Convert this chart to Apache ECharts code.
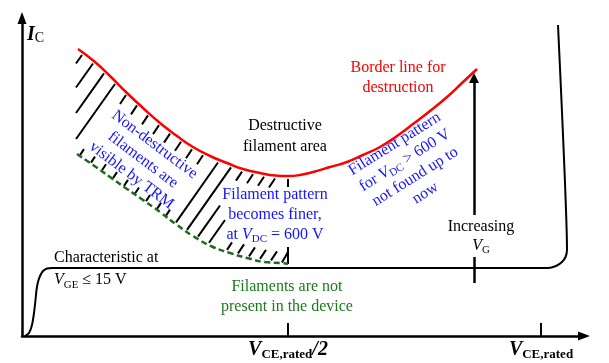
<!DOCTYPE html>
<html><head><meta charset="utf-8">
<script src="https://cdn.jsdelivr.net/npm/echarts@6/dist/echarts.min.js"></script>
<style>html,body{margin:0;padding:0;background:#fff}#c{width:609px;height:363px}</style>
</head><body><div id="c"></div>
<script>
// ---- data (axis units: x = V_CE, y = I_C, arbitrary scale) ----
const xTickValues = [266, 519];
const xTickLabels = ['{v|V}{s|CE,rated}{v|/2}', '{v|V}{s|CE,rated}'];

const borderLine = [[56,287],[73,274],[88,260],[105,243],[121,228],[138,213],[155,200],[171,189],[188,180],[205,173],[221,167],[238,163],[253,160.5],[266,160],[278,161],[291,164],[308,169],[325,174],[341,181],[358,189],[375,200],[391,212],[408,225],[425,239],[440,253],[455,267]];

const filamentOnset = [[55,182],[71,171],[88,159],[105,147],[121,136],[138,124],[155,111],[171,100],[191,89],[208,83],[225,78],[243,74],[258,73],[266,72]];

const characteristic = [[3,0],[7,3],[10,11],[12,23],[13.5,36],[14.5,46],[16,54],[18,60],[21,65],[25,67.5],[30,68],[526,68],[534,70],[540,74],[543.5,79],[545,86],[536,311]];

const hatchSegments = [
 [54,272.5,60,281],[54,248.5,71,272.5],[54,223,82,262.6],[54,197,93,252],
 [98,232,104,241],[109,221.6,115,230.6],[120,211.6,126,220.6],[131,201.9,137,210.9],
 [142,193.4,148,202.4],[153,185.3,159,194.3],[164,177.7,170,186.7],[175,171.7,181,180.7],
 [154,113.6,196,173.5],[165,106.1,209,168.6],[176,99.3,198,130.5],[187,93.2,203,116],
 [214,155.4,220,164.4],[225,152.7,231,161.7],[236,150.3,242,159.3],[247,148.5,253,157.5],
 [266,149,266,157],
 [58,180.9,62,186.9],[69,173.4,73,179.4],[80,165.7,84,171.7],[91,157.9,95,163.9],
 [102,150.1,106,156.1],[113,142.5,117,148.5],[124,134.9,128,140.9],[135,127.1,139,133.1],
 [144,120.4,148,126.4],
 [205,86.1,210,93.6],[216,82.6,222,91.6],[227,79.6,233,88.6],[238,77.1,244,86.1],
 [249,75.6,255,84.6],[260,73.5,266,84],[266,72,266,89]
];

const arrowLower = [[452,53],[452,79]];
const arrowUpper = [[452,121],[452,258]];

const annotationTexts = {
  border: 'Border line for\ndestruction',
  destructive: 'Destructive\nfilament area',
  finer: 'Filament pattern\nbecomes finer,\nat {i|V}{s|DC} = 600 V',
  nonDestructive: 'Non-destructive\nfilaments are\nvisible by TRM',
  notFound: 'Filament pattern\nfor {i|V}{s|DC} > 600 V\nnot found up to\nnow',
  characteristic: 'Characteristic at\n{i|V}{s|GE} ≤ 15 V',
  notPresent: 'Filaments are not\npresent in the device',
  increasing: 'Increasing\n{i|V}{s|G}',
  yName: '{I|I}{C|C}'
};
const annotationAnchors = {
  border: [376,258], destructive: [263,199.5], finer: [253,121],
  nonDestructive: [121,176], notFound: [388,167.5], characteristic: [32,67],
  notPresent: [265,39], increasing: [459,99.5], yName: [5,301]
};

// ---- chart ----
const FONT = 'Liberation Serif';
const BLUE = '#1414ff', RED = '#ff0000', GREEN = '#1d7a1d', DGREEN = '#1f6a1f';
const chart = echarts.init(document.getElementById('c'), null, {renderer: 'canvas'});

const axisCommon = {
  type: 'value', splitLine: {show: false},
  axisLine: {show: true, onZero: false, symbol: ['none', 'triangle'], symbolSize: [9, 12],
             lineStyle: {color: '#000', width: 2.5}}
};

chart.setOption({
  animation: false,
  grid: {left: 22, right: 25, top: 18, bottom: 27, containLabel: false},
  xAxis: Object.assign({}, axisCommon, {
    min: 0, max: 562,
    axisTick: {show: true, inside: true, length: 13, customValues: xTickValues, lineStyle: {color: '#000', width: 2}},
    axisLabel: {show: true, margin: 3, customValues: xTickValues,
      formatter: (v, i) => xTickLabels[xTickValues.indexOf(v)],
      rich: {
        v: {fontFamily: FONT, fontSize: 20, fontWeight: 'bold', fontStyle: 'italic', lineHeight: 22, color: '#000'},
        s: {fontFamily: FONT, fontSize: 13, fontWeight: 'bold', lineHeight: 10, verticalAlign: 'bottom', color: '#000'}
      }}
  }),
  yAxis: Object.assign({}, axisCommon, {
    min: 0, max: 318, axisTick: {show: false}, axisLabel: {show: false}
  }),
  series: [
    {type: 'line', data: characteristic, symbol: 'none', smooth: 0.15,
     lineStyle: {color: '#000', width: 2}, z: 3},
    {type: 'line', data: borderLine, symbol: 'none', smooth: 0.5,
     lineStyle: {color: RED, width: 2.5}, z: 4},
    {type: 'line', data: filamentOnset, symbol: 'none', smooth: 0.5,
     lineStyle: {color: DGREEN, width: 2.5, type: [6, 3.5]}, z: 4},
    {type: 'lines', coordinateSystem: 'cartesian2d', polyline: false,
     data: hatchSegments.map(s => ({coords: [[s[0], s[1]], [s[2], s[3]]]})),
     lineStyle: {color: '#000', width: 2, opacity: 1, curveness: 0}, z: 3},
    {type: 'lines', coordinateSystem: 'cartesian2d',
     data: [{coords: arrowLower}],
     lineStyle: {color: '#000', width: 2.5, opacity: 1}, z: 3},
    {type: 'lines', coordinateSystem: 'cartesian2d',
     data: [{coords: arrowUpper}], symbol: ['none', 'triangle'], symbolSize: 10,
     lineStyle: {color: '#000', width: 2.5, opacity: 1}, z: 3}
  ]
});

function rich(color, size, lh) {
  return {
    n: {fontFamily: FONT, fontSize: size, lineHeight: lh, fill: color},
    i: {fontFamily: FONT, fontSize: size, fontStyle: 'italic', lineHeight: lh, fill: color},
    s: {fontFamily: FONT, fontSize: size * 0.68, lineHeight: 8, verticalAlign: 'bottom', fill: color},
    I: {fontFamily: FONT, fontSize: 20, fontStyle: 'italic', fontWeight: 'bold', lineHeight: 21, fill: color},
    C: {fontFamily: FONT, fontSize: 14, lineHeight: 10, verticalAlign: 'bottom', fill: color}
  };
}
const looks = {
  border: {color: RED, lh: 20},
  destructive: {color: '#000', lh: 21},
  finer: {color: BLUE, lh: 20},
  nonDestructive: {color: BLUE, lh: 19.3, rot: -37},
  notFound: {color: BLUE, lh: 19.3, rot: 32},
  characteristic: {color: '#000', lh: 22, align: 'left'},
  notPresent: {color: GREEN, lh: 20},
  increasing: {color: '#000', lh: 19},
  yName: {color: '#000', lh: 21, align: 'left'}
};
const TEXT_SIZE = 16;
const graphics = Object.keys(annotationTexts).map(k => {
  const p = chart.convertToPixel({gridIndex: 0}, annotationAnchors[k]);
  const L = looks[k];
  return {
    type: 'text', x: p[0], y: p[1], rotation: (L.rot || 0) * Math.PI / 180, z: 10,
    style: {
      text: annotationTexts[k], fill: L.color, fontFamily: FONT, fontSize: TEXT_SIZE,
      lineHeight: L.lh, align: L.align || 'center', verticalAlign: 'middle',
      rich: rich(L.color, TEXT_SIZE, L.lh)
    }
  };
});
chart.setOption({graphic: graphics});
</script>
</body></html>
